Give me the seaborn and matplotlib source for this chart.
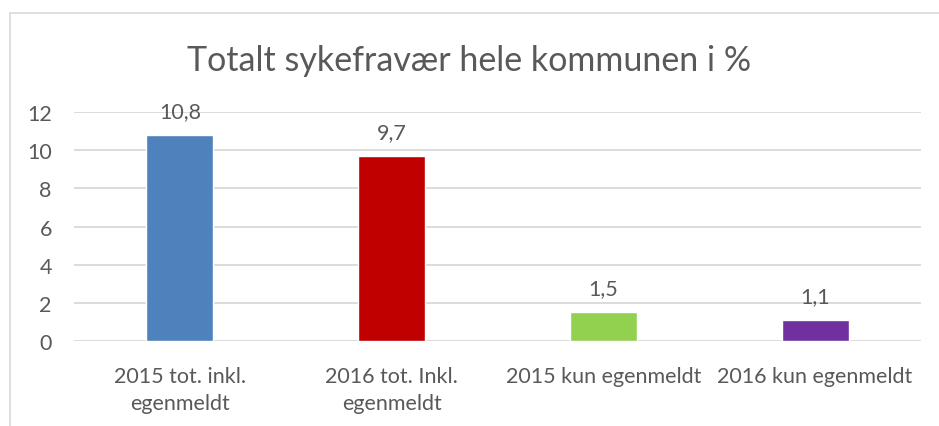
import matplotlib
matplotlib.use('Agg')
import matplotlib.pyplot as plt
import seaborn as sns
import pandas as pd

# data
categories = ['2015 tot. inkl.\negenmeldt', '2016 tot. Inkl.\negenmeldt',
              '2015 kun egenmeldt', '2016 kun egenmeldt']
values = [10.8, 9.7, 1.5, 1.1]
labels = ['10,8', '9,7', '1,5', '1,1']
colors = ['#4F81BD', '#C00000', '#92D050', '#7030A0']
yticks = [0, 2, 4, 6, 8, 10, 12]

sns.set_style('white')
plt.rcParams['font.family'] = ['Lato', 'DejaVu Sans']
text_col = '#595959'

df = pd.DataFrame({'kategori': categories, 'verdi': values})

fig = plt.figure(figsize=(9.39, 4.27), dpi=100)
ax = fig.add_axes([0.0788, 0.199, 0.902, 0.536])
sns.barplot(data=df, x='kategori', y='verdi', hue='kategori', palette=colors,
            width=0.316, legend=False, ax=ax, saturation=1)

ax.set_ylim(0, 12)
ax.set_yticks(yticks)
ax.set_yticklabels([str(t) for t in yticks])
ax.yaxis.grid(True, color='#D9D9D9', linewidth=1.3)
ax.set_axisbelow(True)
for s in ax.spines.values():
    s.set_visible(False)
ax.tick_params(axis='both', length=0, labelsize=15.5, colors=text_col)
ax.tick_params(axis='y', pad=16)
ax.tick_params(axis='x', pad=18)
for t in ax.get_xticklabels():
    t.set_linespacing(1.45)
ax.set_xlabel('')
ax.set_ylabel('')

for p, lab in zip(ax.patches, labels):
    ax.annotate(lab, (p.get_x() + p.get_width() / 2, p.get_height()),
                xytext=(0, 10), textcoords='offset points',
                ha='center', va='bottom', fontsize=15.5, color=text_col)

fig.text(0.5, 1 - 61 / 427, 'Totalt sykefravær hele kommunen i %',
         ha='center', va='center', fontsize=24.5, color=text_col)

# chart frame (left and top edges show in the picture)
frame = plt.Rectangle((10 / 939, -0.1), 1.2, 1 - 14 / 427 + 0.1,
                      transform=fig.transFigure, fill=False,
                      edgecolor='#D9D9D9', linewidth=1.2)
fig.patches.append(frame)

fig.savefig('out.png', dpi=100)
